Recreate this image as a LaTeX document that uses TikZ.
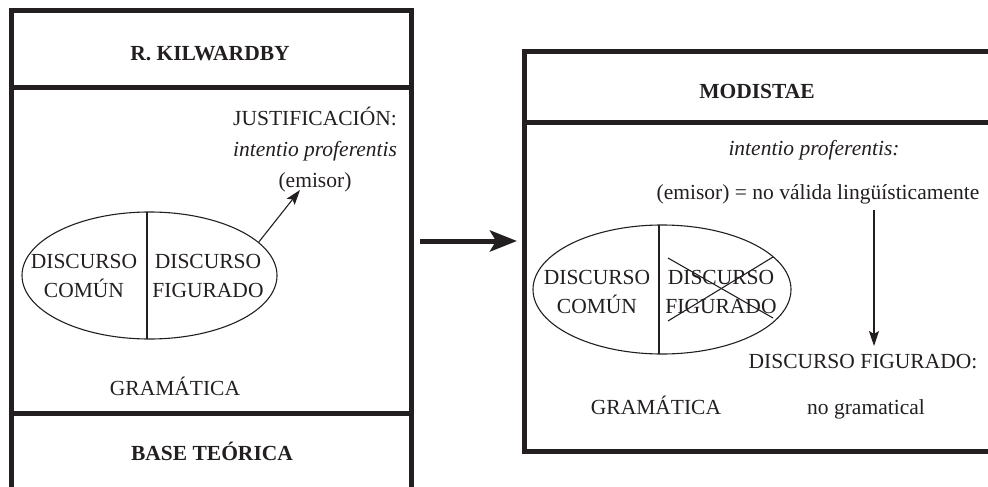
\documentclass[tikz,border=0pt]{standalone}
\usepackage{fontspec}
\setmainfont{Liberation Serif}
\usetikzlibrary{arrows.meta,shapes.geometric}
\definecolor{ink}{HTML}{231F20}
\begin{document}
\begin{tikzpicture}[x=1pt,y=-1pt,
  frame/.style={draw=ink,line width=5pt},
  thin/.style={draw=ink,line width=1.1pt},
  oval/.style={ellipse,draw=ink,line width=1.1pt,inner sep=0pt},
  txt/.style={text=ink,inner sep=0pt,anchor=base,align=center,font=\fontsize{21.5}{31}\selectfont},
  hdr/.style={txt,font=\fontsize{21.5}{31}\selectfont\bfseries},
  intxt/.style={txt,font=\fontsize{21.5}{28.5}\selectfont},
  small arrow/.style={thin,-{Stealth[length=15pt,width=10pt,inset=3pt]}},
  big arrow/.style={draw=ink,line width=5pt,-{Stealth[length=27pt,width=21pt,inset=6pt]}}]
\useasboundingbox (0,0) rectangle (988,487);
\begin{scope}
\clip (0,0) rectangle (988,487);
% left frame
\draw[frame] (11.5,495) -- (11.5,10.5) -- (411.5,10.5) -- (411.5,495);
\draw[frame] (9,87.5) -- (414,87.5);
\draw[frame] (9,413.5) -- (414,413.5);
% right frame
\draw[frame] (995,51.5) -- (524.5,51.5) -- (524.5,451.5) -- (995,451.5);
\draw[frame] (522,122) -- (995,122);
\end{scope}

% left panel
\node[hdr] (kil) at (210,60) {R. KILWARDBY};
\node[txt] (just) at (315,187) {JUSTIFICACIÓN:\\\textit{intentio proferentis}\\(emisor)};
\node[oval,minimum width=255pt,minimum height=127pt] (ellL) at (149.5,275.5) {};
\draw[thin] (147,212.2) -- (147,338.8);
\node[intxt] (dcL) at (84,297) {DISCURSO\\COMÚN};
\node[intxt] (dfL) at (208,297) {DISCURSO\\FIGURADO};
\coordinate (tipL) at (300,190);
\draw[small arrow] (ellL.17) -- (tipL);
\node[txt] (gramL) at (175,395) {GRAMÁTICA};
\node[hdr] (base) at (212,460) {BASE TEÓRICA};

% big arrow
\coordinate (bigA) at (420,241);
\coordinate (bigB) at (517,241);
\draw[big arrow] (bigA) -- (bigB);

% right panel
\node[hdr] (mod) at (757,99) {MODISTAE};
\node[txt] (intR) at (814,155) {\textit{intentio proferentis:}};
\node[txt] (emR) at (818,199) {(emisor) = no válida lingüísticamente};
\node[oval,minimum width=258pt,minimum height=129pt] (ellR) at (662,289.5) {};
\draw[thin] (659,225.1) -- (659,353.9);
\node[intxt] (dcR) at (597,313) {DISCURSO\\COMÚN};
\node[intxt] (dfR) at (721,313) {DISCURSO\\FIGURADO};
\coordinate (xa) at (668,258);
\coordinate (xb) at (773,318);
\coordinate (xc) at (668,321);
\coordinate (xd) at (773,257);
\draw[thin] (xa) -- (xb);
\draw[thin] (xc) -- (xd);
\coordinate (downA) at (874,210);
\coordinate (downB) at (874,346);
\draw[small arrow] (downA) -- (downB);
\node[txt] (dfig) at (863,368) {DISCURSO FIGURADO:};
\node[txt] (gramR) at (656,414) {GRAMÁTICA};
\node[txt] (nogr) at (866,414) {no gramatical};
\end{tikzpicture}
\end{document}
